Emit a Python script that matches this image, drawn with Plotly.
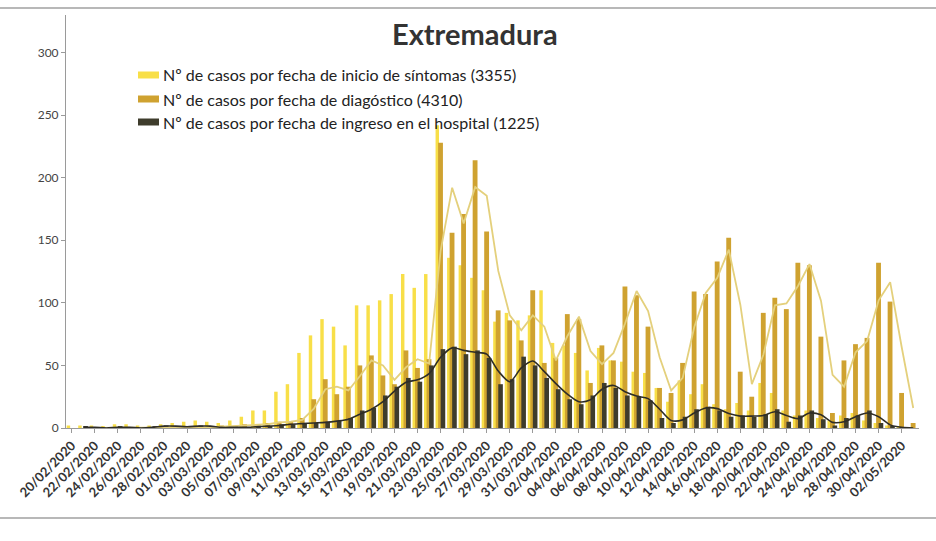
import plotly.graph_objects as go
import pandas as pd

# ---- data -------------------------------------------------------------
fechas = [
    "20/02/2020", "21/02/2020", "22/02/2020", "23/02/2020", "24/02/2020",
    "25/02/2020", "26/02/2020", "27/02/2020", "28/02/2020", "29/02/2020",
    "01/03/2020", "02/03/2020", "03/03/2020", "04/03/2020", "05/03/2020",
    "06/03/2020", "07/03/2020", "08/03/2020", "09/03/2020", "10/03/2020",
    "11/03/2020", "12/03/2020", "13/03/2020", "14/03/2020", "15/03/2020",
    "16/03/2020", "17/03/2020", "18/03/2020", "19/03/2020", "20/03/2020",
    "21/03/2020", "22/03/2020", "23/03/2020", "24/03/2020", "25/03/2020",
    "26/03/2020", "27/03/2020", "28/03/2020", "29/03/2020", "30/03/2020",
    "31/03/2020", "01/04/2020", "02/04/2020", "03/04/2020", "04/04/2020",
    "05/04/2020", "06/04/2020", "07/04/2020", "08/04/2020", "09/04/2020",
    "10/04/2020", "11/04/2020", "12/04/2020", "13/04/2020", "14/04/2020",
    "15/04/2020", "16/04/2020", "17/04/2020", "18/04/2020", "19/04/2020",
    "20/04/2020", "21/04/2020", "22/04/2020", "23/04/2020", "24/04/2020",
    "25/04/2020", "26/04/2020", "27/04/2020", "28/04/2020", "29/04/2020",
    "30/04/2020", "01/05/2020", "02/05/2020", "03/05/2020",
]

sintomas = [
    2, 2, 2, 1, 3, 3, 2, 2, 3, 4,
    5, 6, 5, 4, 6, 9, 14, 14, 29, 35,
    60, 74, 87, 81, 66, 98, 98, 102, 107, 123,
    112, 123, 242, 136, 130, 120, 110, 85, 92, 86,
    90, 110, 68, 66, 60, 46, 64, 54, 53, 45,
    44, 32, 21, 38, 27, 35, 19, 15, 20, 14,
    36, 28, 14, 10, 14, 8, 6, 10, 12, 6,
    4, 2, 1, 0,
]

diagnostico = [
    0, 0, 0, 0, 0, 0, 0, 0, 0, 0,
    0, 1, 0, 2, 1, 3, 2, 4, 5, 5,
    8, 23, 39, 27, 33, 50, 58, 42, 35, 62,
    48, 55, 228, 156, 171, 214, 157, 94, 86, 70,
    110, 52, 56, 91, 87, 36, 66, 54, 113, 106,
    81, 32, 28, 52, 109, 107, 133, 152, 45, 25,
    92, 104, 95, 132, 130, 73, 12, 54, 67, 72,
    132, 101, 28, 4,
]

hospital = [
    0, 1, 0, 0, 1, 0, 0, 1, 2, 1,
    1, 2, 1, 0, 1, 0, 2, 1, 3, 3,
    4, 4, 5, 6, 8, 14, 16, 26, 33, 40,
    37, 50, 63, 65, 59, 62, 56, 35, 39, 57,
    50, 40, 31, 23, 19, 26, 36, 32, 26, 25,
    22, 8, 4, 9, 15, 17, 14, 9, 10, 9,
    11, 15, 5, 10, 14, 7, 2, 8, 10, 14,
    4, 1, 0, 0,
]

nombres = [
    "Nº de casos por fecha de inicio de síntomas (3355)",
    "Nº de casos por fecha de diagóstico (4310)",
    "Nº de casos por fecha de ingreso en el hospital (1225)",
]
titulo = "Extremadura"
etiquetas_x = fechas[::2]
ticks_y = [0, 50, 100, 150, 200, 250, 300]

# 2-day moving-average trend lines
media_diag = pd.Series(diagnostico, dtype=float).rolling(2).mean()
media_hosp = pd.Series(hospital, dtype=float).rolling(2).mean()

# ---- styling ----------------------------------------------------------
C_SINT = "#F8DF48"
C_DIAG = "#CFA230"
C_HOSP = "#3E3C2C"
C_LDIAG = "#E4D07C"
C_LHOSP = "#2E2D27"
FONT = "Lato"

W, H = 936, 541
ML, MR, MT, MB = 66, 17, 15, 113
PW, PH = W - ML - MR, H - MT - MB


def px_x(px):
    return (px - ML) / PW


def px_y(py):
    return (H - MB - py) / PH


fig = go.Figure()

fig.add_trace(go.Bar(x=fechas, y=sintomas, name=nombres[0], marker_color=C_SINT,
                     offset=-0.44, width=0.30, marker_line_width=0))
fig.add_trace(go.Bar(x=fechas, y=diagnostico, name=nombres[1], marker_color=C_DIAG,
                     offset=-0.22, width=0.42, marker_line_width=0))
fig.add_trace(go.Bar(x=fechas, y=hospital, name=nombres[2], marker_color=C_HOSP,
                     offset=0.0, width=0.40, marker_line_width=0))

fig.add_trace(go.Scatter(x=fechas, y=media_diag, mode="lines",
                         line=dict(color=C_LDIAG, width=1.8), showlegend=False,
                         hoverinfo="skip"))
fig.add_trace(go.Scatter(x=fechas, y=media_hosp, mode="lines",
                         line=dict(color=C_LHOSP, width=1.6, shape="spline",
                                   smoothing=0.8),
                         showlegend=False, hoverinfo="skip"))

# legend drawn as colour swatches + text inside the plot area
shapes = []
annotations = []
legend_rows = [75, 99, 122]
for nombre, color, py in zip(nombres, [C_SINT, C_DIAG, C_HOSP], legend_rows):
    shapes.append(dict(type="rect", xref="paper", yref="paper",
                       x0=px_x(138), x1=px_x(159), y0=px_y(py + 3.5), y1=px_y(py - 3.5),
                       fillcolor=color, line=dict(width=0)))
    annotations.append(dict(text=nombre, xref="paper", yref="paper",
                            x=px_x(161), y=px_y(py), xanchor="left", yanchor="middle",
                            showarrow=False,
                            font=dict(family=FONT, size=16, color="#222222")))

annotations.append(dict(text="<b>" + titulo + "</b>", xref="paper", yref="paper",
                        x=px_x(475), y=px_y(33), xanchor="center", yanchor="middle",
                        showarrow=False,
                        font=dict(family=FONT, size=29, color="#333333")))

# outer frame lines of the chart area
shapes.append(dict(type="line", xref="paper", yref="paper",
                   x0=px_x(0), x1=px_x(W), y0=px_y(8), y1=px_y(8),
                   line=dict(color="#A0A0A0", width=1.5)))
shapes.append(dict(type="line", xref="paper", yref="paper",
                   x0=px_x(0), x1=px_x(W), y0=px_y(518), y1=px_y(518),
                   line=dict(color="#A0A0A0", width=1.5)))

fig.update_layout(
    width=W, height=H,
    margin=dict(l=ML, r=MR, t=MT, b=MB, pad=0),
    paper_bgcolor="white", plot_bgcolor="white",
    barmode="overlay",
    showlegend=False,
    shapes=shapes,
    annotations=annotations,
    font=dict(family=FONT),
)

fig.update_xaxes(
    type="category", range=[-0.5, len(fechas) - 0.5],
    tickmode="array", tickvals=etiquetas_x, ticktext=etiquetas_x,
    tickangle=-45, tickfont=dict(family=FONT, size=13, color="#333333", weight="bold"),
    showline=True, linecolor="#9A9A9A", linewidth=1,
    ticks="outside", ticklen=4, tickcolor="#9A9A9A",
    showgrid=False, zeroline=False,
)
fig.update_yaxes(
    range=[0, 330], tickmode="array", tickvals=ticks_y,
    tickfont=dict(family=FONT, size=12, color="#444444"),
    showline=True, linecolor="#9A9A9A", linewidth=1,
    ticks="outside", ticklen=4, tickcolor="#9A9A9A",
    showgrid=False, zeroline=False,
)

fig.write_html("out.html")
